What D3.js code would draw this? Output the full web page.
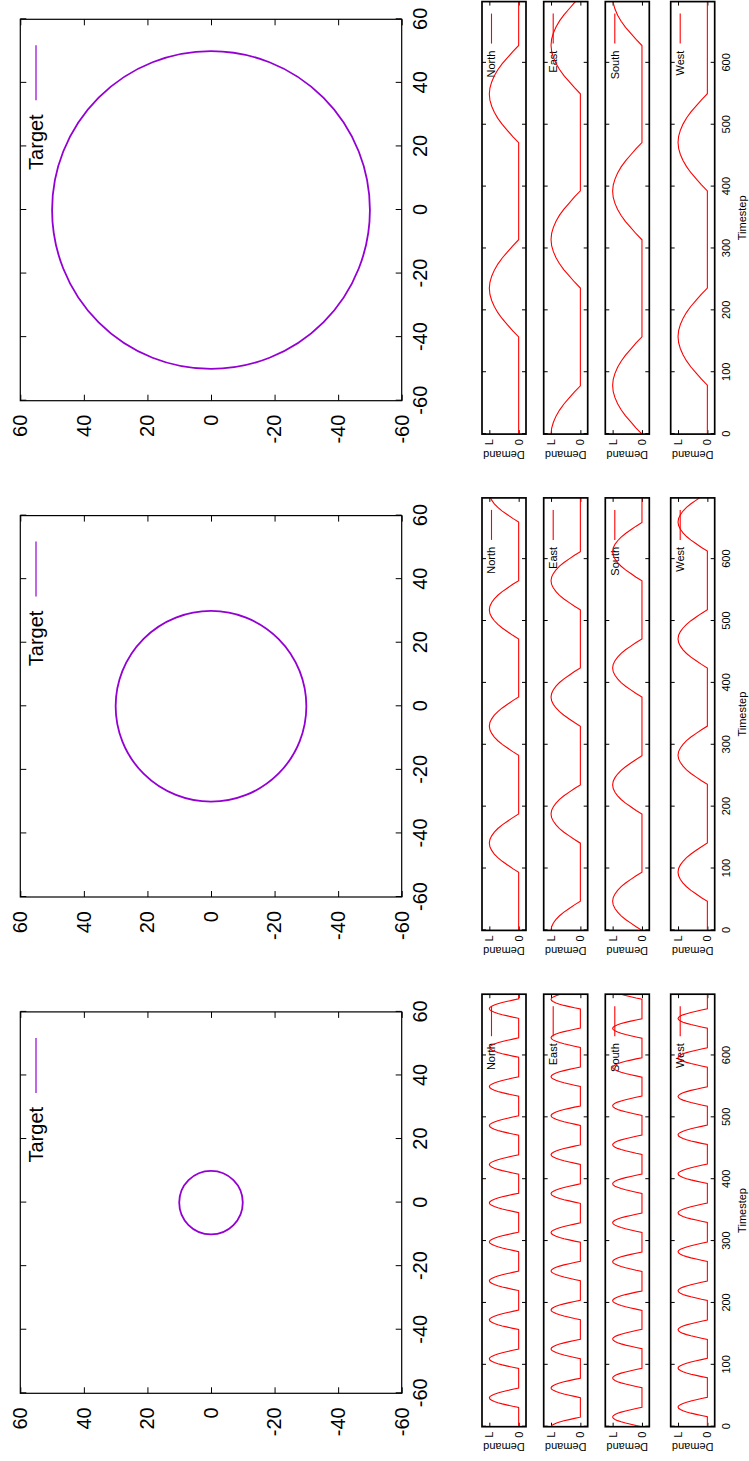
<!DOCTYPE html>
<html>
<head>
<meta charset="utf-8">
<script src="https://cdn.jsdelivr.net/npm/d3@7"></script>
<style>
  body { margin: 0; background: #fff; }
  svg { display: block; }
</style>
</head>
<body>
<script>
// target circle radius for each of the three runs (left to right in landscape)
var radii = [10, 30, 50];
var posTicks = [-60, -40, -20, 0, 20, 40, 60];

var directions = ["North", "East", "South", "West"];
var timeTicks = [0, 100, 200, 300, 400, 500, 600];
var timeMax = 699;
var demandTicks = [0, 1];
var demandTickLabels = ["0", "L"];

// width (timesteps) of one demand bump in each run
var bumpWidth = [31.4, 94.2, 157.1];
// shape of one bump, fraction of L, read at 17 even steps across it
var bumpShape = [0, 0.2, 0.38, 0.56, 0.71, 0.83, 0.92, 0.98, 1, 0.98, 0.92, 0.83, 0.71, 0.56, 0.38, 0.2, 0];

// timestep where each bump starts, per run [r10, r30, r50]
var northStarts = [
  [31, 94, 157, 220, 283, 346, 408, 471, 534, 597, 660],
  [94, 283, 471, 660],
  [157, 471]
];
var eastStarts = [
  [-16, 47, 110, 173, 236, 298, 361, 424, 487, 550, 613, 675],
  [-47, 141, 330, 518],
  [-79, 236, 550]
];
var southStarts = [
  [0, 63, 126, 188, 251, 314, 377, 440, 503, 565, 628, 691],
  [0, 188, 377, 565],
  [0, 314, 628]
];
var westStarts = [
  [16, 79, 141, 204, 267, 330, 393, 456, 518, 581, 644],
  [47, 236, 424, 613],
  [79, 393]
];
var startsByDir = [northStarts, eastStarts, southStarts, westStarts];

var W = 1461, H = 749;
var font = "'Liberation Sans', Arial, Helvetica, sans-serif";

var svg = d3.select("body").append("svg")
    .attr("width", H)
    .attr("height", W);

// gnuplot landscape page, turned a quarter turn
var g = svg.append("g").attr("transform", "translate(0," + W + ") rotate(-90)");

var colStep = 496.3;
var plain = function(d) { return String(d); };  // gnuplot uses a hyphen, not U+2212

function styleAxis(sel, size) {
  sel.attr("font-family", font).attr("font-size", size);
  sel.select(".domain").remove();
  sel.selectAll("line").attr("stroke", "#000").attr("stroke-width", 1);
  sel.selectAll("text").attr("fill", "#000");
}

radii.forEach(function(r, i) {
  var left = 67.7 + i * colStep, top = 20.3, size = 381.4;
  var x = d3.scaleLinear().domain([-60, 60]).range([left, left + size]);
  var y = d3.scaleLinear().domain([-60, 60]).range([top + size, top]);

  g.append("g").attr("transform", "translate(0," + (top + size) + ")")
    .call(d3.axisBottom(x).tickValues(posTicks).tickFormat(plain).tickSizeInner(-6).tickSizeOuter(0).tickPadding(11))
    .call(styleAxis, 20);
  g.append("g").attr("transform", "translate(0," + top + ")")
    .call(d3.axisTop(x).tickValues(posTicks).tickSizeInner(-6).tickSizeOuter(0).tickFormat(""))
    .call(styleAxis, 20);
  g.append("g").attr("transform", "translate(" + left + ",0)")
    .call(d3.axisLeft(y).tickValues(posTicks).tickFormat(plain).tickSizeInner(-6).tickSizeOuter(0).tickPadding(14))
    .call(styleAxis, 20);
  g.append("g").attr("transform", "translate(" + (left + size) + ",0)")
    .call(d3.axisRight(y).tickValues(posTicks).tickSizeInner(-6).tickSizeOuter(0).tickFormat(""))
    .call(styleAxis, 20);

  g.append("circle")
    .attr("cx", x(0))
    .attr("cy", y(0))
    .attr("r", x(r) - x(0))
    .attr("fill", "none")
    .attr("stroke", "#9400d3")
    .attr("stroke-width", 1.8);

  g.append("rect")
    .attr("x", left).attr("y", top)
    .attr("width", size).attr("height", size)
    .attr("fill", "none").attr("stroke", "#000").attr("stroke-width", 1.2);

  // key
  var right = left + size;
  g.append("text")
    .attr("x", right - 95).attr("y", 36).attr("dy", "0.35em")
    .attr("text-anchor", "end")
    .attr("font-family", font).attr("font-size", 20)
    .text("Target");
  g.append("line")
    .attr("x1", right - 81).attr("x2", right - 26)
    .attr("y1", 36).attr("y2", 36)
    .attr("stroke", "#9400d3").attr("stroke-width", 1.2);
});

// small demand panels
var panelTops = [482, 543.7, 605.3, 670.7];
var panelH = 44, panelW = 432.5;

var line = d3.line();

radii.forEach(function(r, i) {
  var left = 34.3 + i * colStep;
  var x = d3.scaleLinear().domain([0, timeMax]).range([left, left + panelW]);

  directions.forEach(function(dir, j) {
    var top = panelTops[j];
    var y = d3.scaleLinear().domain([-0.25, 1.25]).range([top + panelH, top]);
    var last = j === directions.length - 1;

    var bottomAxis = d3.axisBottom(x).tickValues(timeTicks).tickSizeInner(-4).tickSizeOuter(0).tickPadding(8);
    if (!last) bottomAxis.tickFormat("");
    g.append("g").attr("transform", "translate(0," + (top + panelH) + ")")
      .call(bottomAxis).call(styleAxis, 11);
    g.append("g").attr("transform", "translate(0," + top + ")")
      .call(d3.axisTop(x).tickValues(timeTicks).tickSizeInner(-4).tickSizeOuter(0).tickFormat(""))
      .call(styleAxis, 11);
    g.append("g").attr("transform", "translate(" + left + ",0)")
      .call(d3.axisLeft(y).tickValues(demandTicks).tickSizeInner(-4).tickSizeOuter(0).tickPadding(5)
        .tickFormat(function(d, k) { return demandTickLabels[k]; }))
      .call(styleAxis, 11);
    g.append("g").attr("transform", "translate(" + (left + panelW) + ",0)")
      .call(d3.axisRight(y).tickValues(demandTicks).tickSizeInner(-4).tickSizeOuter(0).tickFormat(""))
      .call(styleAxis, 11);

    // build the series from the read bump starts
    var starts = startsByDir[j][i], w = bumpWidth[i];
    var pts = [];
    if (starts[0] > 0) pts.push([0, 0]);
    starts.forEach(function(s) {
      bumpShape.forEach(function(v, k) {
        pts.push([s + w * k / (bumpShape.length - 1), v]);
      });
    });
    if (starts[starts.length - 1] + w < timeMax) pts.push([timeMax, 0]);

    var clipId = "clip-" + i + "-" + j;
    g.append("clipPath").attr("id", clipId)
      .append("rect")
      .attr("x", left).attr("y", top)
      .attr("width", panelW).attr("height", panelH);

    // key
    var right = left + panelW;
    g.append("text")
      .attr("x", right - 49).attr("y", top + 9.5).attr("dy", "0.35em")
      .attr("text-anchor", "end")
      .attr("font-family", font).attr("font-size", 11)
      .text(dir);
    g.append("line")
      .attr("x1", right - 42).attr("x2", right - 12)
      .attr("y1", top + 9.5).attr("y2", top + 9.5)
      .attr("stroke", "#ff0000").attr("stroke-width", 1.1);

    g.append("path")
      .attr("clip-path", "url(#" + clipId + ")")
      .attr("d", line(pts.map(function(p) { return [x(p[0]), y(p[1])]; })))
      .attr("fill", "none")
      .attr("stroke", "#ff0000")
      .attr("stroke-width", 1.1);

    g.append("rect")
      .attr("x", left).attr("y", top)
      .attr("width", panelW).attr("height", panelH)
      .attr("fill", "none").attr("stroke", "#000").attr("stroke-width", 1.7);

    g.append("text")
      .attr("transform", "translate(" + (left - 20.5) + "," + (top + panelH / 2) + ") rotate(-90)")
      .attr("text-anchor", "middle").attr("dy", "0.35em")
      .attr("font-family", font).attr("font-size", 11)
      .text("Demand");
  });

  g.append("text")
    .attr("x", left + panelW / 2).attr("y", 746)
    .attr("text-anchor", "middle")
    .attr("font-family", font).attr("font-size", 11)
    .text("Timestep");
});
</script>
</body>
</html>
